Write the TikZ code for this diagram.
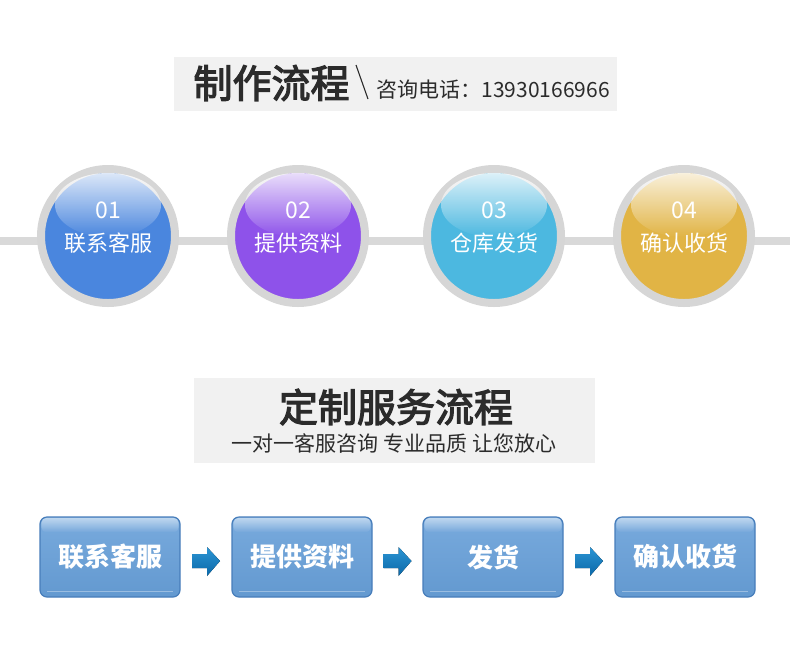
\documentclass[tikz,border=0pt]{standalone}
\usepackage{fontspec}
\setmainfont{Noto Sans CJK SC}
\newfontfamily\headfont{Noto Sans CJK SC}[FakeBold=3]
\usepackage{xcolor}
\usetikzlibrary{positioning, calc, fadings}

\definecolor{ringgray}{HTML}{D6D6D6}
\definecolor{linegray}{HTML}{D9D9D9}
\definecolor{titlebg}{HTML}{F1F1F1}
\definecolor{titletext}{HTML}{2B2B2B}
\definecolor{stepblue}{HTML}{4A86DE}
\definecolor{steppurple}{HTML}{8E52EA}
\definecolor{stepcyan}{HTML}{4CB8E0}
\definecolor{stepgold}{HTML}{E1B445}
\definecolor{boxtop}{HTML}{78AADD}
\definecolor{boxbot}{HTML}{6399D0}
\definecolor{boxedge}{HTML}{477DBA}
\definecolor{arrtop}{HTML}{2C95D4}
\definecolor{arrbot}{HTML}{0B68A8}

\tikzfading[name=glossfade, top color=transparent!5,
    middle color=transparent!75, bottom color=transparent!100]

\begin{document}
\begin{tikzpicture}[x=1pt, y=-1pt,
    % --- circles of the first flow ---
    ring/.style={circle, draw=ringgray, line width=8pt, minimum size=134pt,
        inner sep=0pt, fill=#1},
    gloss/.style={fill=white, fill opacity=0.85, path fading=glossfade},
    numtxt/.style={text=white, font=\fontsize{23}{25}\selectfont},
    steptxt/.style={text=white, font=\fontsize{22}{24}\selectfont},
    % --- headings ---
    headbg/.style={fill=titlebg, draw=none},
    headtxt/.style={text=titletext, font=\fontsize{39}{42}\headfont},
    subtxt/.style={text=titletext, font=\fontsize{21}{24}\selectfont},
    % --- boxes of the second flow ---
    flowbox/.style={rectangle, rounded corners=7pt, draw=boxedge, line width=1.2pt,
        top color=boxtop, bottom color=boxbot,
        minimum width=140pt, minimum height=80pt, inner sep=0pt},
    boxtxt/.style={text=white, font=\fontsize{26}{28}\selectfont\bfseries},
    blockarr/.style={top color=arrtop, bottom color=arrbot, draw=none},
]
\useasboundingbox (0,0) rectangle (790,657);

% =============================================
%  Heading 1
% =============================================
\fill[headbg] (174,57) rectangle (617,111);
\node[headtxt, anchor=west] (head1) at (190,83) {制作流程};
\draw[titletext, line width=1.1pt] (356,65) -- (368,99);
\node[subtxt, anchor=west] (phone) at (373,90) {咨询电话：13930166966};

% =============================================
%  Flow 1: circles on a line
% =============================================
\coordinate (lineL) at (0,241);
\coordinate (lineR) at (790,241);
\draw[linegray, line width=8pt] (lineL) -- (lineR);

\node[ring=stepblue]   (c1) at (108,236) {};
\node[ring=steppurple] (c2) at (298,236) {};
\node[ring=stepcyan]   (c3) at (494,236) {};
\node[ring=stepgold]   (c4) at (684,236) {};

\foreach \c in {c1,c2,c3,c4}
    \fill[gloss] ($(\c)+(0,-31)$) ellipse [x radius=53, y radius=32];

\foreach \c/\num/\txt in {c1/01/联系客服, c2/02/提供资料, c3/03/仓库发货, c4/04/确认收货}{
    \node[numtxt]  at ($(\c)+(0,-26)$) {\num};
    \node[steptxt] at ($(\c)+(0,7)$)   {\txt};
}

% =============================================
%  Heading 2
% =============================================
\fill[headbg] (194,378) rectangle (595,463);
\node[headtxt] (head2) at (396,407) {定制服务流程};
\node[subtxt] (slogan) at (394,444) {一对一客服咨询 专业品质 让您放心};

% =============================================
%  Flow 2: boxes and block arrows
% =============================================
\node[flowbox] (b1) at (110,557) {};
\node[flowbox] (b2) at (302,557) {};
\node[flowbox] (b3) at (493,557) {};
\node[flowbox] (b4) at (685,557) {};

\foreach \b in {b1,b2,b3,b4}{
    \fill[white, fill opacity=0.55, path fading=glossfade, rounded corners=5pt]
        ($(\b.north west)+(2,1.5)$) rectangle ($(\b.north east)+(-2,16)$);
    \draw[white, opacity=0.35, line width=1.5pt]
        ($(\b.south west)+(8,-6)$) -- ($(\b.south east)+(-8,-6)$);
}

\node[boxtxt] (t1) at (b1) {联系客服};
\node[boxtxt] (t2) at (b2) {提供资料};
\node[boxtxt] (t3) at (b3) {发货};
\node[boxtxt] (t4) at (b4) {确认收货};

\foreach \l/\r [count=\i] in {b1/b2, b2/b3, b3/b4}{
    \coordinate (a\i) at ($($(\l.east)!0.5!(\r.west)$)+(0,4)$);
    \fill[blockarr] ($(a\i)+(-14,-7)$) -- ++(15,0) -- ++(0,-7) -- ++(13,14)
        -- ++(-13,15) -- ++(0,-8) -- ++(-15,0) -- cycle;
}

\end{tikzpicture}
\end{document}
